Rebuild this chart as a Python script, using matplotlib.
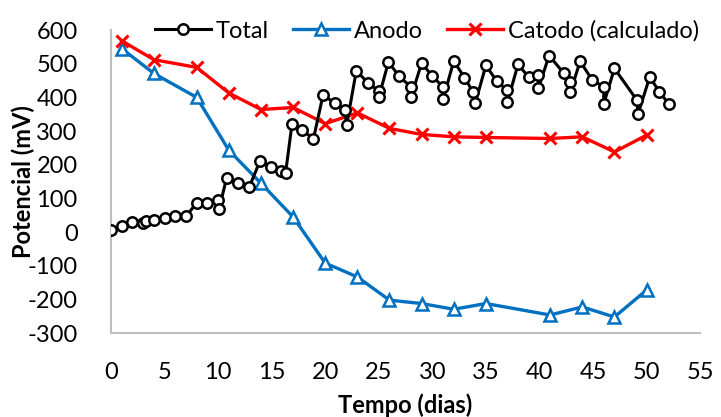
import matplotlib
matplotlib.use("Agg")
import matplotlib.pyplot as plt

plt.rcParams['font.family'] = ['Lato', 'DejaVu Sans']
plt.rcParams['axes.unicode_minus'] = False

# Potencial total medido (mV) ao longo do tempo
total_dias = [0, 1, 2, 3, 3.3, 4, 5, 6, 7, 8, 9, 10, 10.1, 10.8, 11.9, 12.9,
              13.9, 14.9, 15.9, 16.3, 16.9, 17.8, 18.9, 19.8, 20.9, 21.8, 22,
              22.9, 24, 25, 25, 25.9, 26.9, 28, 28, 29, 30, 31, 31, 32, 33,
              33.8, 34, 35, 36, 37, 37, 38, 39, 39.9, 39.9, 40.9, 42.3, 42.9,
              42.9, 43.8, 44.9, 46, 46, 47, 49.1, 49.2, 50.3, 51.2, 52.1]
total_mv = [6, 17, 31, 28, 34, 37, 43, 48, 47, 87, 87, 95, 70, 162, 146, 133,
            211, 194, 181, 176, 322, 304, 277, 408, 382, 364, 318,
            479, 443, 419, 400, 505, 463, 431, 400, 502, 463, 431, 394, 508, 459,
            416, 382, 495, 449, 421, 385, 498, 460, 467, 427, 524, 471, 445,
            417, 507, 453, 431, 380, 486, 392, 350, 461, 416, 380]

# Potencial do anodo e do catodo (calculado)
eletrodo_dias = [1, 4, 8, 11, 14, 17, 20, 23, 26, 29, 32, 35, 41, 44, 47, 50]
anodo_mv = [545, 471, 400, 243, 145, 45, -92, -133, -202, -212, -229, -212,
            -246, -222, -252, -172]
catodo_mv = [568, 512, 489, 413, 364, 370, 322, 354, 308, 290, 283, 281,
             278, 283, 238, 288]

fig = plt.figure(figsize=(7.21, 4.17), dpi=100)
ax = fig.add_axes([0.154, 0.201, 0.817, 0.727])

ax.plot(total_dias, total_mv, color='black', lw=2.2, marker='o', ms=7.5,
        mfc='white', mec='black', mew=1.8, label='Total', zorder=3)
ax.plot(eletrodo_dias, anodo_mv, color='#0070C0', lw=2.4, marker='^', ms=8,
        mfc='white', mec='#0070C0', mew=1.8, label='Anodo', zorder=2)
ax.plot(eletrodo_dias, catodo_mv, color='#FF0000', lw=2.4, marker='x', ms=9,
        mec='#FF0000', mew=2.2, label='Catodo (calculado)', zorder=2)

ax.set_xlim(0, 55)
ax.set_ylim(-300, 600)
ax.set_xticks(range(0, 56, 5))
ax.set_yticks(range(-300, 601, 100))
ax.tick_params(length=0, labelsize=17)
ax.tick_params(axis='x', pad=21)
ax.tick_params(axis='y', pad=24)

for side in ['top', 'right']:
    ax.spines[side].set_visible(False)
for side in ['left', 'bottom']:
    ax.spines[side].set_color('#bfbfbf')
    ax.spines[side].set_linewidth(1.5)

ax.set_xlabel('Tempo (dias)', fontsize=17, fontweight='bold', labelpad=7)
ax.set_ylabel('Potencial (mV)', fontsize=17, fontweight='bold')
ax.yaxis.set_label_coords(-0.129, 0.5)

fig.legend(loc='center', bbox_to_anchor=(0.592, 0.926), ncol=3,
           frameon=False, fontsize=17, handlelength=2.4, handletextpad=0.2,
           columnspacing=1.0)

fig.savefig('out.png', dpi=100)
